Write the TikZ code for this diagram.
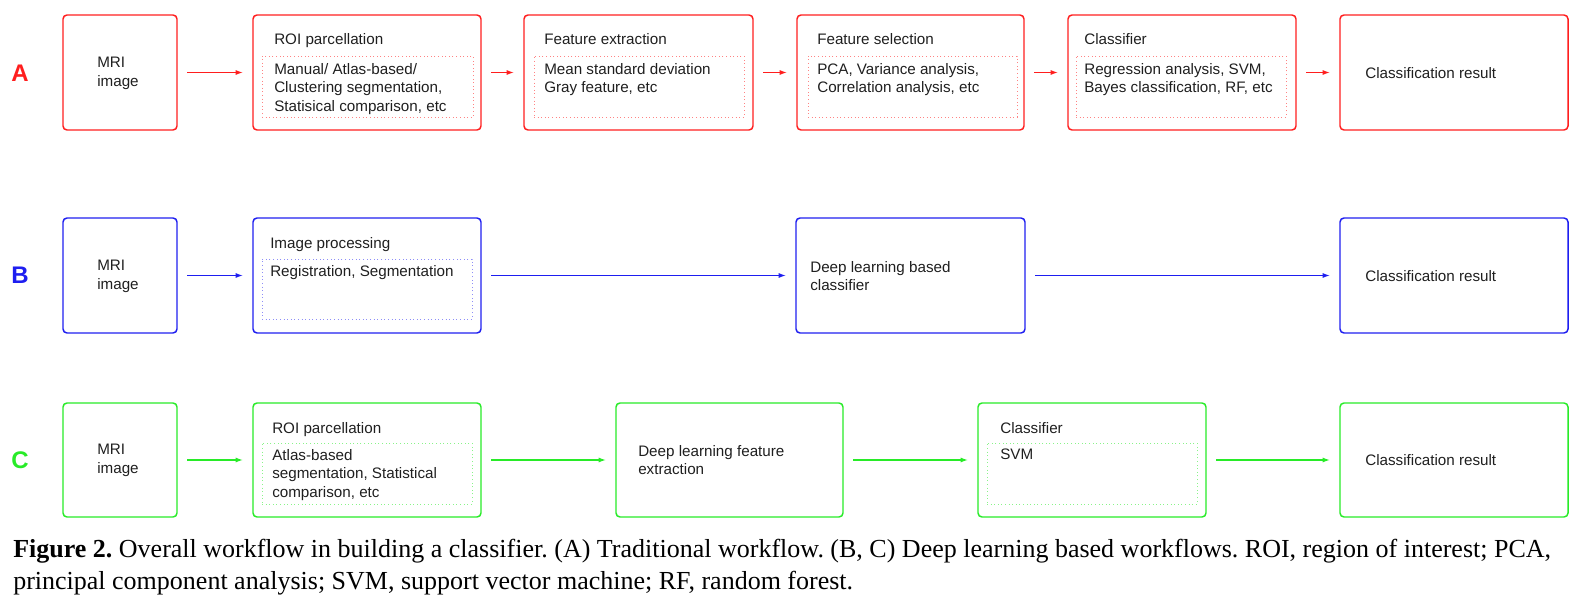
\documentclass[tikz,border=0pt]{standalone}
\usepackage{fontspec}
\setmainfont{Liberation Serif}
\setsansfont{Liberation Sans}
\usetikzlibrary{arrows.meta,fit}
\definecolor{cR}{RGB}{255,30,30}
\definecolor{cB}{RGB}{30,30,240}
\definecolor{cG}{RGB}{40,235,40}
\frenchspacing
\begin{document}
\begin{tikzpicture}[x=0.75pt,y=-0.75pt,
  box/.style={draw, rounded corners=3pt, line width=1.1pt, inner sep=0pt, fit={#1}},
  inbox/.style={draw, dotted, line width=0.7pt, inner sep=0pt, fit={#1}},
  txt/.style={font=\sffamily\fontsize{11.4}{13.9}\selectfont, align=left, anchor=north west, inner sep=0pt, text=black!88},
  lbl/.style={font=\sffamily\bfseries\fontsize{18}{20}\selectfont, inner sep=0pt},
  arr/.style={-{Latex[length=5.5pt,width=3.8pt]}, line width=0.9pt, shorten <=7pt, shorten >=7pt},
  captxt/.style={font=\fontsize{19.5}{24.5}\selectfont, align=left, anchor=west, inner sep=0pt, text=black}]
\useasboundingbox (0,0) rectangle (1585,613);

% ---------------- Row A ----------------
\node[lbl, text=cR] (lA) at (20,73) {A};
\node[box={(63,15)(177,130)}, draw=cR] (a1) {};
\node[txt] (a1t) at (97,57) {MRI\\image};

\node[box={(253,15)(481,130)}, draw=cR] (a2) {};
\node[inbox={(262,56)(473,117)}, draw=cR!55] (a2i) {};
\node[txt] (a2t) at (274,33) {ROI parcellation};
\node[txt] (a2b) at (274,63) {Manual/ Atlas-based/\\Clustering segmentation,\\Statisical comparison, etc};

\node[box={(524,15)(753,130)}, draw=cR] (a3) {};
\node[inbox={(534,56)(744,117)}, draw=cR!55] (a3i) {};
\node[txt] (a3t) at (544,33) {Feature extraction};
\node[txt] (a3b) at (544,63) {Mean standard deviation\\Gray feature, etc};

\node[box={(797,15)(1024,130)}, draw=cR] (a4) {};
\node[inbox={(808,56)(1017,117)}, draw=cR!55] (a4i) {};
\node[txt] (a4t) at (817,33) {Feature selection};
\node[txt] (a4b) at (817,63) {PCA, Variance analysis,\\Correlation analysis, etc};

\node[box={(1068,15)(1296,130)}, draw=cR] (a5) {};
\node[inbox={(1076,56)(1286,117)}, draw=cR!55] (a5i) {};
\node[txt] (a5t) at (1084,33) {Classifier};
\node[txt] (a5b) at (1084,63) {Regression analysis, SVM,\\Bayes classification, RF, etc};

\node[box={(1340,15)(1568,130)}, draw=cR] (a6) {};
\node[txt] (a6t) at (1365,67) {Classification result};

\draw[arr, cR] (a1) -- (a2);
\draw[arr, cR] (a2) -- (a3);
\draw[arr, cR] (a3) -- (a4);
\draw[arr, cR] (a4) -- (a5);
\draw[arr, cR] (a5) -- (a6);

% ---------------- Row B ----------------
\node[lbl, text=cB] (lB) at (20,275) {B};
\node[box={(63,218)(177,333)}, draw=cB] (b1) {};
\node[txt] (b1t) at (97,260) {MRI\\image};

\node[box={(253,218)(481,333)}, draw=cB] (b2) {};
\node[inbox={(262,259)(472,319)}, draw=cB!50] (b2i) {};
\node[txt] (b2t) at (270,237) {Image processing};
\node[txt] (b2b) at (270,265) {Registration, Segmentation};

\node[box={(796,218)(1025,333)}, draw=cB] (b3) {};
\node[txt] (b3t) at (810,261) {Deep learning based\\classifier};

\node[box={(1340,218)(1568,333)}, draw=cB] (b4) {};
\node[txt] (b4t) at (1365,270) {Classification result};

\draw[arr, cB] (b1) -- (b2);
\draw[arr, cB] (b2) -- (b3);
\draw[arr, cB] (b3) -- (b4);

% ---------------- Row C ----------------
\node[lbl, text=cG] (lC) at (20,460) {C};
\node[box={(63,403)(177,517)}, draw=cG] (c1) {};
\node[txt] (c1t) at (97,444) {MRI\\image};

\node[box={(253,403)(481,517)}, draw=cG] (c2) {};
\node[inbox={(262,443)(472,504)}, draw=cG!55] (c2i) {};
\node[txt] (c2t) at (272,422) {ROI parcellation};
\node[txt] (c2b) at (272,449) {Atlas-based\\segmentation, Statistical\\comparison, etc};

\node[box={(616,403)(843,517)}, draw=cG] (c3) {};
\node[txt] (c3t) at (638,445) {Deep learning feature\\extraction};

\node[box={(978,403)(1206,517)}, draw=cG] (c4) {};
\node[inbox={(987,443)(1197,504)}, draw=cG!55] (c4i) {};
\node[txt] (c4t) at (1000,422) {Classifier};
\node[txt] (c4b) at (1000,449) {SVM};

\node[box={(1340,403)(1568,517)}, draw=cG] (c5) {};
\node[txt] (c5t) at (1365,454) {Classification result};

\draw[arr, cG] (c1) -- (c2);
\draw[arr, cG] (c2) -- (c3);
\draw[arr, cG] (c3) -- (c4);
\draw[arr, cG] (c4) -- (c5);

% ---------------- Caption ----------------
\node[captxt] (capnode) at (13,567) {\textbf{Figure 2.} Overall workflow in building a classifier. (A) Traditional workflow. (B, C) Deep learning based workflows. ROI, region of interest; PCA,\\principal component analysis; SVM, support vector machine; RF, random forest.};
\end{tikzpicture}
\end{document}
